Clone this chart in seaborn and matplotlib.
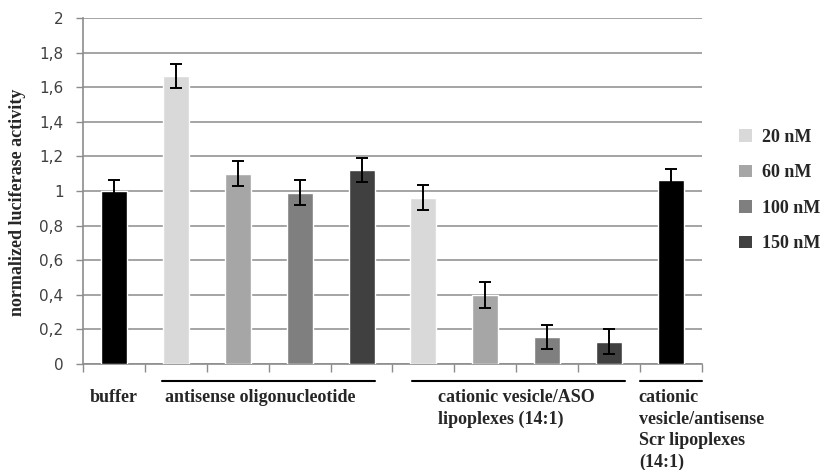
import matplotlib
matplotlib.use("Agg")
import matplotlib.pyplot as plt
import matplotlib.transforms as mtransforms
from matplotlib.patches import Patch
import seaborn as sns
import pandas as pd
import numpy as np

# Bar slots, left to right
slots = ["buffer",
         "ASO 20 nM", "ASO 60 nM", "ASO 100 nM", "ASO 150 nM",
         "Lipo 20 nM", "Lipo 60 nM", "Lipo 100 nM", "Lipo 150 nM",
         "Scr lipoplex"]
values = [1.00, 1.665, 1.10, 0.99, 1.12, 0.96, 0.40, 0.155, 0.13, 1.065]
errors = [0.065, 0.07, 0.072, 0.072, 0.07, 0.072, 0.075, 0.07, 0.07, 0.065]
shade = ["control", "20 nM", "60 nM", "100 nM", "150 nM",
         "20 nM", "60 nM", "100 nM", "150 nM", "control"]

legend_labels = ["20 nM", "60 nM", "100 nM", "150 nM"]
shade_colors = {"control": "#000000", "20 nM": "#d9d9d9", "60 nM": "#a6a6a6",
                "100 nM": "#7f7f7f", "150 nM": "#404040"}

y_ticks = [0, 0.2, 0.4, 0.6, 0.8, 1.0, 1.2, 1.4, 1.6, 1.8, 2.0]
y_tick_labels = ["0", "0,2", "0,4", "0,6", "0,8", "1", "1,2", "1,4", "1,6", "1,8", "2"]

groups = [
    ("buffer", None, 0.0, "center"),
    ("antisense oligonucleotide", (0.78, 4.22), 0.83, "left"),
    ("cationic vesicle/ASO\nlipoplexes (14:1)", (4.82, 8.26), 5.24, "left"),
    ("cationic\nvesicle/antisense\nScr lipoplexes\n(14:1)", (8.5, 9.5), 8.48, "left"),
]

df = pd.DataFrame({"slot": slots, "value": values, "err": errors, "shade": shade})
palette = [shade_colors[s] for s in shade]

sns.set_style("white")
serif = ["Liberation Serif", "DejaVu Serif"]

fig = plt.figure(figsize=(8.25, 4.7), dpi=100)
ax = fig.add_axes([83 / 825, 106 / 470, 619 / 825, 346 / 470])

sns.barplot(data=df, x="slot", y="value", hue="slot", palette=palette,
            order=slots, hue_order=slots, legend=False, width=0.42,
            saturation=1, ax=ax, errorbar=None, zorder=3)

pos = np.arange(len(slots))
ax.errorbar(pos, df["value"], yerr=df["err"], fmt="none", ecolor="black",
            elinewidth=1.4, capsize=4, capthick=1.4, zorder=4)

ax.set_xlim(-0.5, len(slots) - 0.5)
ax.set_ylim(0, 2)
ax.set_yticks(y_ticks)
ax.set_yticklabels(y_tick_labels, fontsize=11, color="#404040",
                   family="DejaVu Sans")
ax.set_xticks(np.arange(len(slots) + 1) - 0.5)
ax.set_xticklabels([])
ax.set_xlabel("")
ax.tick_params(axis="y", length=5, width=1, color="#8c8c8c", pad=9, left=True)
ax.tick_params(axis="x", length=6, width=1, color="#8c8c8c", bottom=True)

ax.grid(axis="y", color="#959595", linewidth=1.2, zorder=0)
ax.set_axisbelow(True)
for side in ["top", "right"]:
    ax.spines[side].set_visible(False)
for side in ["left", "bottom"]:
    ax.spines[side].set_color("#8c8c8c")
    ax.spines[side].set_linewidth(1.2)

ax.set_ylabel("normalized luciferase activity", fontsize=13,
              fontweight="bold", family=serif)
ax.yaxis.set_label_coords(-0.092, 0.468)

# Group captions below the axis
trans = mtransforms.blended_transform_factory(ax.transData, fig.transFigure)
line_y = (470 - 381) / 470
text_y = (470 - 389) / 470
for text, span, tx, ha in groups:
    if span is not None:
        ax.plot(span, [line_y, line_y], transform=trans, color="black",
                linewidth=1.5, clip_on=False)
    ax.text(tx, text_y, text, transform=trans, ha=ha, va="top",
            fontsize=13, fontweight="bold", family=serif, linespacing=1.35)

handles = [Patch(facecolor=shade_colors[l], edgecolor="none") for l in legend_labels]
leg = fig.legend(handles, legend_labels, loc="upper left",
                 bbox_to_anchor=(739 / 825, (470 - 129) / 470),
                 frameon=False, handlelength=0.7, handleheight=0.7,
                 handletextpad=0.6, labelspacing=1.02,
                 borderpad=0, borderaxespad=0,
                 prop={"family": serif, "weight": "bold", "size": 13})

fig.savefig("out.png", dpi=100)
